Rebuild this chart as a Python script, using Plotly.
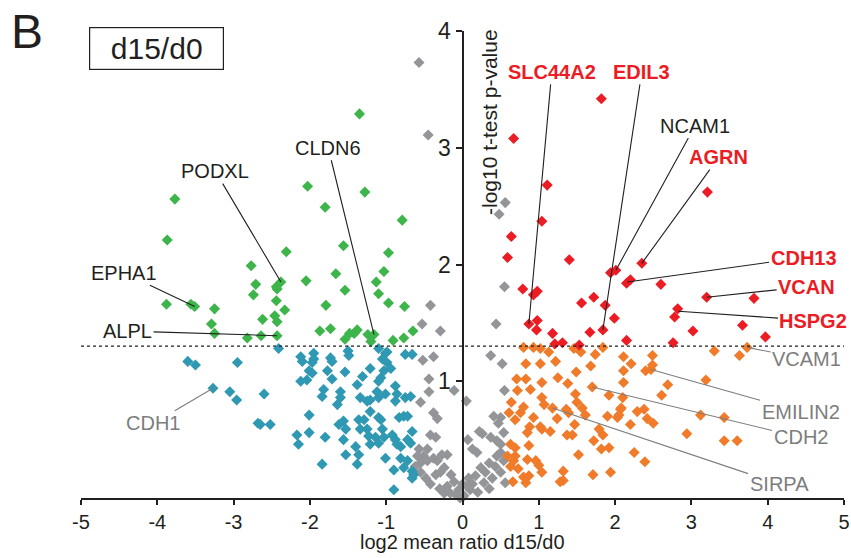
import plotly.graph_objects as go

# ---------------- data ----------------
green_x = [-3.77,-3.87,-2.77,-2.71,-2.74,-2.44,-3.88,-3.56,-3.51,-3.25,-3.29,-3.25,-2.62,-2.46,-2.44,-2.82,-2.64,-2.43,
           -1.35,-2.03,-1.28,-1.80,-0.79,-1.56,-2.31,-0.97,-1.03,-1.66,-2.05,-2.38,-1.13,-2.43,-1.54,-1.10,-2.33,-1.79,
           -0.97,-0.76,-2.43,-1.87,-1.73,-1.48,-1.38,-1.54,-1.24,-1.16,-1.20,-0.91,-0.77,-0.65,-1.42]
green_y = [2.56,2.21,1.99,1.83,1.74,1.81,1.66,1.66,1.64,1.62,1.49,1.41,1.53,1.56,1.69,1.37,1.39,1.39,
           3.29,2.67,2.62,2.49,2.38,2.16,2.11,2.10,1.94,1.92,1.86,1.85,1.85,1.79,1.78,1.75,1.61,1.65,
           1.67,1.64,1.51,1.43,1.45,1.41,1.44,1.36,1.40,1.40,1.34,1.35,1.37,1.43,1.41]

teal_x = [-2.41,-2.12,-2.10,-1.95,-1.95,-1.97,-1.73,-1.71,-1.50,-1.49,-1.10,-1.01,-0.99,-0.75,-0.66,
          -2.01,-1.97,-1.77,-1.54,-1.05,-0.99,-0.94,-1.03,
          -2.12,-2.04,-1.71,-1.07,-1.10,-1.38,-1.21,-1.31,
          -2.60,-1.82,-1.84,-1.60,-1.60,-1.64,-1.34,-1.25,-1.21,-1.12,-1.10,-1.01,-0.88,-0.86,-0.88,-0.75,-0.68,
          -1.21,-1.10,-1.07,-2.01,-2.52,-2.65,-1.62,-1.56,-1.53,-1.36,-1.29,-1.34,-1.25,-0.83,-0.77,-0.72,
          -2.17,-2.15,-2.01,-1.80,-1.56,-1.23,-1.21,-1.14,-1.10,-1.05,-1.03,-0.92,-0.88,-0.86,-0.81,-0.72,-0.66,-0.68,
          -1.40,-1.53,-1.36,-1.38,-1.84,-1.01,-0.81,-0.77,-0.72,-0.90,-0.66,-0.64,-0.66,-0.90,
          -3.60,-3.50,-2.95,-3.27,-3.05,-2.96,-2.68]
teal_y = [1.28,1.21,1.17,1.24,1.19,1.16,1.20,1.17,1.26,1.22,1.28,1.24,1.25,1.23,1.23,
          1.09,1.07,1.09,1.08,1.19,1.16,1.11,1.09,
          1.00,1.01,1.02,1.03,1.00,0.97,1.11,1.04,
          0.89,0.93,0.87,0.91,0.86,0.80,0.86,0.83,0.84,0.91,0.86,0.89,0.96,0.89,0.83,0.86,0.87,
          0.74,0.69,0.67,0.71,0.63,0.63,0.63,0.66,0.59,0.67,0.67,0.59,0.59,0.69,0.70,0.70,
          0.54,0.46,0.56,0.52,0.50,0.53,0.46,0.52,0.47,0.59,0.52,0.54,0.50,0.46,0.44,0.50,0.57,0.47,
          0.44,0.37,0.37,0.29,0.29,0.34,0.34,0.26,0.32,0.24,0.23,0.20,0.17,0.07,
          1.17,1.14,1.16,0.94,0.91,0.84,0.64]

gray_x = [-0.57,-0.45,0.56,0.48,0.55,0.44,-0.42,-0.53,-0.29,
          -0.52,-0.38,-0.44,-0.44,-0.11,-0.55,0.05,0.37,0.52,0.55,-0.38,-0.33,0.41,0.50,0.47,-0.42,-0.35,0.07,
          0.22,0.26,0.37,0.45,0.50,0.54,0.13,0.19,-0.20,-0.57,-0.51,-0.46,-0.59,-0.55,-0.46,-0.38,-0.33,-0.24,
          -0.29,-0.55,-0.48,-0.42,-0.20,-0.24,-0.16,-0.09,-0.03,0.02,-0.05,-0.11,0.08,0.13,0.17,0.06,0.10,0.24,
          0.30,0.35,0.39,0.43,0.28,0.45,0.50,0.54,0.56,0.50,-0.27,-0.62,-0.35,-0.15,0.20,0.35,-0.30,0.00]
gray_y = [3.73,3.11,2.53,2.43,1.81,1.49,1.65,1.49,1.43,
          1.18,1.21,1.02,0.91,0.92,0.82,0.83,1.22,1.15,0.92,0.73,0.68,0.70,0.69,0.64,0.54,0.52,0.50,
          0.57,0.55,0.52,0.49,0.46,0.56,0.42,0.39,0.37,0.42,0.36,0.42,0.36,0.30,0.32,0.34,0.32,0.26,
          0.22,0.22,0.17,0.12,0.10,0.04,0.04,0.03,0.00,0.02,0.07,0.14,0.17,0.12,0.19,0.10,0.07,0.26,
          0.22,0.30,0.17,0.27,0.13,0.36,0.39,0.32,0.13,0.22,0.37,0.27,0.20,0.20,0.05,0.08,0.08,0.12]

orange_x = [0.80,0.93,1.02,1.13,1.46,1.55,1.74,1.84,2.11,2.49,
            0.83,1.02,1.22,1.68,2.21,2.49,2.40,2.47,1.49,2.11,1.25,0.71,0.83,
            1.04,0.89,0.72,1.38,1.70,2.11,2.69,1.48,1.92,2.10,2.61,1.04,1.07,
            0.64,0.80,1.18,1.50,1.57,0.61,0.76,1.36,1.39,
            0.93,1.24,1.61,1.90,2.07,2.29,2.38,2.42,2.50,0.69,
            0.88,1.02,1.47,2.03,2.20,0.85,1.04,1.15,1.79,1.84,1.37,1.44,
            1.72,0.87,0.63,0.69,1.82,1.92,1.52,2.25,0.69,0.67,0.85,0.96,1.00,2.39,
            0.73,1.04,1.32,1.32,1.71,1.94,0.80,0.87,0.66,1.28,0.59,0.63,0.83,
            3.19,3.30,3.63,3.73,2.08,2.05,3.12,3.43,2.94,3.43,3.60]
orange_y = [1.29,1.29,1.28,1.25,1.28,1.25,1.23,1.29,1.21,1.22,
            1.15,1.15,1.17,1.13,1.15,1.14,1.09,1.10,1.08,1.09,1.03,1.02,1.02,
            0.99,0.93,0.92,0.98,0.95,0.99,0.97,0.89,0.88,0.86,0.88,0.86,0.80,
            0.82,0.78,0.77,0.82,0.77,0.73,0.73,0.76,0.73,
            0.69,0.68,0.71,0.70,0.76,0.74,0.76,0.68,0.64,0.67,
            0.61,0.61,0.63,0.69,0.63,0.56,0.59,0.57,0.59,0.54,0.54,0.54,
            0.49,0.45,0.46,0.43,0.42,0.43,0.37,0.39,0.36,0.32,0.33,0.32,0.28,0.31,
            0.25,0.22,0.23,0.15,0.20,0.22,0.18,0.19,0.14,0.14,0.36,0.27,0.13,
            1.01,1.26,1.22,1.29,0.77,0.71,0.71,0.69,0.55,0.49,0.49]

red_x = [0.67,1.11,1.04,0.64,0.59,0.79,0.93,0.98,0.87,0.98,0.97,1.18,1.82,1.40,2.35,1.94,2.01,2.15,2.20,2.60,
         1.56,1.72,1.87,1.99,2.82,2.78,1.21,1.31,1.53,1.67,1.84,2.15,2.76,3.21,3.20,3.82,3.02,3.67,3.97]
red_y = [3.08,2.68,2.37,2.24,2.06,1.79,1.74,1.77,1.49,1.52,1.44,1.41,3.42,2.04,2.01,1.93,1.95,1.84,1.87,1.83,
         1.67,1.72,1.65,1.54,1.62,1.55,1.32,1.33,1.31,1.42,1.44,1.35,1.33,2.62,1.72,1.71,1.43,1.48,1.38]

threshold = 1.301  # -log10(0.05)

# labelled proteins: name, point x, point y
label_names = ["PODXL","CLDN6","EPHA1","ALPL","CDH1","SLC44A2","EDIL3","NCAM1","AGRN",
               "CDH13","VCAN","HSPG2","VCAM1","EMILIN2","CDH2","SIRPA"]
label_px = [-2.38,-1.16,-3.51,-2.43,-3.27,0.87,1.84,2.01,2.35,2.16,3.20,2.83,3.73,2.47,1.70,1.18]
label_py = [1.85,1.40,1.64,1.39,0.94,1.49,1.44,1.95,2.01,1.85,1.72,1.60,1.29,1.10,0.95,0.77]
label_kind = ["black","black","black","black","gray","red","red","black","red",
              "red","red","red","gray","gray","gray","gray"]

x_ticks = [-5,-4,-3,-2,-1,0,1,2,3,4,5]
x_ticktext = ["-5","-4","-3","-2","-1","0","1","2","3","4","5"]
y_ticks = [1,2,3,4]

# ---------------- layout helpers (text placement) ----------------
label_tx = [-3.24,-1.76,-4.44,-4.39,-4.05,1.17,2.35,3.05,3.36,4.47,4.51,4.60,4.51,4.43,4.43,4.15]
label_ty = [2.80,3.00,1.93,1.43,0.64,3.65,3.65,3.19,2.92,2.06,1.81,1.52,1.19,0.74,0.52,0.12]

FONT = "Liberation Sans, Arial, sans-serif"
NARROW = "Liberation Sans Narrow, Arial Narrow, Liberation Sans, sans-serif"
COL = {"green": "#3DB54A", "teal": "#2F98B2", "gray": "#939598", "orange": "#F07B2A", "red": "#EC1C24"}
TXT = {"black": "#231F20", "gray": "#7D7D7D", "red": "#EC1C24"}
LINE = {"black": "#231F20", "gray": "#7D7D7D", "red": "#231F20"}

fig = go.Figure()
for xs, ys, c in [(gray_x, gray_y, "gray"), (teal_x, teal_y, "teal"), (green_x, green_y, "green"),
                  (orange_x, orange_y, "orange"), (red_x, red_y, "red")]:
    fig.add_trace(go.Scatter(x=xs, y=ys, mode="markers", cliponaxis=False,
                             marker=dict(symbol="diamond", size=8.5, color=COL[c], line=dict(width=0)),
                             showlegend=False, hoverinfo="skip"))

fig.add_shape(type="line", xref="paper", x0=0, x1=1, yref="y", y0=threshold, y1=threshold,
              line=dict(color="#231F20", width=1.2, dash="dot"))

for name, px, py, tx, ty, k in zip(label_names, label_px, label_py, label_tx, label_ty, label_kind):
    fig.add_annotation(x=px, y=py, xref="x", yref="y", ax=tx, ay=ty, axref="x", ayref="y",
                       text=("<b>%s</b>" % name) if k == "red" else name,
                       showarrow=True, arrowhead=0, arrowwidth=1.1, arrowcolor=LINE[k], standoff=0,
                       font=dict(family=FONT, size=20, color=TXT[k]))

fig.add_annotation(x=0, y=4, xref="x", yref="y", xanchor="left", yanchor="top", xshift=13, yshift=4,
                   text="-log10 t-test p-value", textangle=-90, showarrow=False,
                   font=dict(family=FONT, size=21, color="#231F20"))
fig.add_annotation(x=0.5, y=-0.0952, xref="paper", yref="paper", xanchor="center", yanchor="middle",
                   text="log2 mean ratio d15/d0", showarrow=False,
                   font=dict(family=NARROW, size=20, color="#231F20"))
fig.add_annotation(x=0.0985, y=0.963, xref="paper", yref="paper", xanchor="center", yanchor="middle",
                   text="d15/d0", showarrow=False, width=131, height=39,
                   bordercolor="#231F20", borderwidth=1.2, borderpad=1,
                   font=dict(family=FONT, size=30, color="#231F20"))
fig.add_annotation(x=-0.0708, y=0.998, xref="paper", yref="paper", xanchor="center", yanchor="middle",
                   text="B", showarrow=False,
                   font=dict(family=FONT, size=48, color="#231F20"))

fig.update_layout(
    width=851, height=558, margin=dict(l=81, r=7, t=31, b=60, autoexpand=False),
    paper_bgcolor="white", plot_bgcolor="white",
    font=dict(family=FONT, size=20, color="#231F20"),
    xaxis=dict(range=[-5, 5], tickvals=x_ticks, ticktext=x_ticktext, showgrid=False, zeroline=False,
               automargin=False,
               showline=True, linecolor="#231F20", linewidth=2, ticks="outside", ticklen=5, tickwidth=2,
               tickcolor="#231F20", tickfont=dict(family=NARROW, size=20)),
    yaxis=dict(range=[0, 4], tickvals=y_ticks, showgrid=False, zeroline=False, anchor="free", position=0.5,
               automargin=False,
               showline=True, linecolor="#231F20", linewidth=2, ticks="outside", ticklen=6, tickwidth=2,
               tickcolor="#231F20", tickfont=dict(family=NARROW, size=23)),
)

fig.write_html("out.html")
